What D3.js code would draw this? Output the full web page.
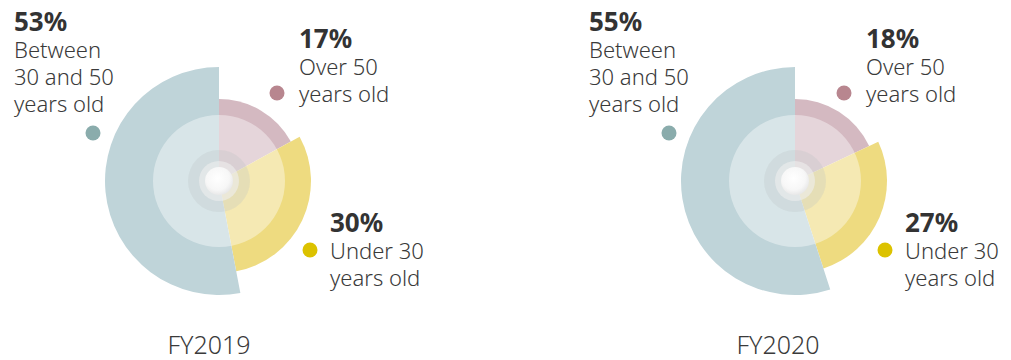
<!DOCTYPE html>
<html>
<head>
<meta charset="utf-8">
<script src="https://cdn.jsdelivr.net/npm/d3@7"></script>
<style>
  html, body { margin: 0; padding: 0; background: #fff; }
  svg { display: block; }
  text { font-family: "Noto Sans", "Open Sans", sans-serif; fill: #3a3a3a; }
</style>
</head>
<body>
<svg id="chart" width="1011" height="360"></svg>
<script>
// ---- data ----
const years = ["FY2019", "FY2020"];
const categories = ["Over 50", "Under 30", "Between 30 and 50"];
const labelLines = [["Over 50", "years old"], ["Under 30", "years old"], ["Between", "30 and 50", "years old"]];
const values2019 = [17, 30, 53];
const values2020 = [18, 27, 55];
const seriesValues = [values2019, values2020];

// ---- style ----
const colors = d3.scaleOrdinal().domain(categories).range(["#d4b9c1", "#eedb80", "#bfd4d9"]);
const dotColors = d3.scaleOrdinal().domain(categories).range(["#b8868f", "#dcc200", "#8aacac"]);
const outerR = d3.scaleOrdinal().domain(categories).range([82, 92, 114]);

const svg = d3.select("#chart");
const defs = svg.append("defs");
const grad = defs.append("radialGradient").attr("id", "cg").attr("cx", "45%").attr("cy", "40%").attr("r", "60%");
grad.append("stop").attr("offset", "0%").attr("stop-color", "#ffffff");
grad.append("stop").attr("offset", "70%").attr("stop-color", "#f7f7f7");
grad.append("stop").attr("offset", "100%").attr("stop-color", "#e8e8e8");

const panels = [
  { cx: 219, cy: 181, titleX: 209,
    label: [ {x: 299, y: 48, dot: [277, 93]}, {x: 330, y: 232, dot: [310, 250]}, {x: 14, y: 31, dot: [93, 133]} ] },
  { cx: 795, cy: 181, titleX: 778,
    label: [ {x: 866, y: 48, dot: [844, 93]}, {x: 905, y: 232, dot: [885, 250]}, {x: 589, y: 31, dot: [669, 133]} ] }
];

const pie = d3.pie().sort(null).value(d => d.v);

panels.forEach((p, pi) => {
  const data = categories.map((c, i) => ({ c, v: seriesValues[pi][i], i }));
  const arcs = pie(data);
  const g = svg.append("g").attr("transform", `translate(${p.cx},${p.cy})`);

  g.selectAll("path.slice").data(arcs).join("path")
    .attr("class", "slice")
    .attr("fill", d => colors(d.data.c))
    .attr("d", d => d3.arc().innerRadius(0).outerRadius(outerR(d.data.c))(d));

  // light inner overlay
  g.append("circle").attr("r", 66).attr("fill", "#ffffff").attr("fill-opacity", 0.4);
  // center rings
  g.append("circle").attr("r", 31).attr("fill", "#b9bfc0").attr("fill-opacity", 0.25);
  g.append("circle").attr("r", 20).attr("fill", "#eeeeee").attr("fill-opacity", 0.6);
  g.append("circle").attr("r", 14).attr("fill", "url(#cg)");

  // labels
  arcs.forEach((a, i) => {
    const L = p.label[i];
    svg.append("circle").attr("cx", L.dot[0]).attr("cy", L.dot[1]).attr("r", 7.5)
      .attr("fill", dotColors(a.data.c));
    const t = svg.append("text").attr("x", L.x).attr("y", L.y);
    t.append("tspan").attr("x", L.x).attr("font-size", 26).attr("font-weight", 700)
      .style("fill", "#333").text(a.data.v + "%");
    labelLines[i].forEach((ln) => {
      t.append("tspan").attr("x", L.x).attr("dy", 27)
        .attr("font-size", 22).attr("font-weight", 300).text(ln);
    });
  });

  svg.append("text").attr("x", p.titleX).attr("y", 354).attr("text-anchor", "middle")
    .attr("font-size", 25).attr("font-weight", 300).text(years[pi]);
});
</script>
</body>
</html>
